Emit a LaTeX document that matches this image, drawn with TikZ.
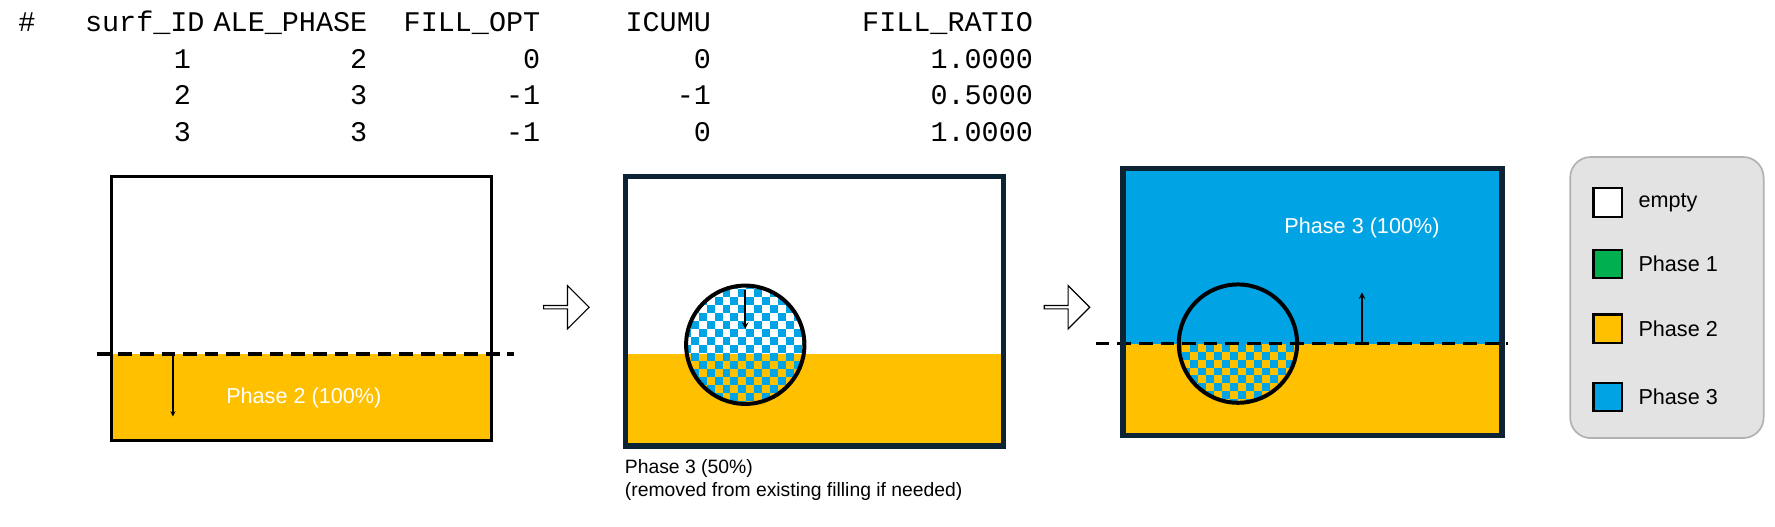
\documentclass[tikz,border=0pt]{standalone}
\usepackage{fontspec}
\setmainfont{Liberation Sans}
\setmonofont{Liberation Mono}
\usetikzlibrary{shapes.arrows}
\usetikzlibrary{positioning}
\definecolor{phyellow}{HTML}{FFC000}
\definecolor{phblue}{HTML}{00A3E4}
\definecolor{phgreen}{HTML}{00B050}
\definecolor{navy}{HTML}{0B2333}
\tikzset{
  tab/.style={anchor=base east,inner sep=0pt,font=\fontsize{25}{30}\selectfont\ttfamily},
  lbl/.style={text=white,font=\fontsize{19}{22}\selectfont},
  note/.style={anchor=west,inner sep=0pt,font=\fontsize{17}{20}\selectfont},
  level/.style={line width=3pt,dash pattern=on 12pt off 7pt},
  push/.style={single arrow,draw,fill=white,line width=1pt,minimum height=40pt,minimum width=38pt,single arrow head extend=6pt,inner sep=0pt},
  key/.style={draw,line width=2pt,minimum size=25pt,inner sep=0pt},
  keylbl/.style={anchor=west,font=\fontsize{19}{22}\selectfont}
}
\begin{document}
\begin{tikzpicture}[x=1pt,y=-1pt]
  \useasboundingbox (0,0) rectangle (1560,463);

  % table
  \node [tab,anchor=base west] (hash) at (16,28) {\#};
  \foreach \name/\x in {surf_ID/180,ALE_PHASE/323,FILL_OPT/475,ICUMU/625,FILL_RATIO/908}
    \node [tab] (h-\x) at (\x,28) {\detokenize\expandafter{\name}};
  \foreach \y/\a/\b/\c/\d/\e in {60/1/2/0/0/1.0000,92/2/3/-1/-1/0.5000,124/3/3/-1/0/1.0000} {
    \node [tab] at (168,\y) {\a};
    \node [tab] at (323,\y) {\b};
    \node [tab] at (475,\y) {\c};
    \node [tab] at (625,\y) {\d};
    \node [tab] at (908,\y) {\e};
  }

  % box 1
  \fill [phyellow] (98,311) rectangle (432,387);
  \draw [line width=3pt] (98,155) rectangle (432,387);
  \coordinate (lvlA-l) at (85,311);
  \coordinate (lvlA-r) at (452,311);
  \draw [level] (lvlA-l) -- (lvlA-r);
  \coordinate (dropA) at (152,313);
  \coordinate (dropA-end) at (152,366);
  \draw [->,>=stealth,line width=1pt] (dropA) -- (dropA-end);
  \node [lbl] (phA) at (267,350) {Phase 2 (100\%)};

  \node [push] (arrA) at (497,270) {};

  % box 2
  \fill [phyellow] (550,311) rectangle (882,392);
  \begin{scope}
    \clip (655,303) circle (52);
    \fill [white] (600,240) rectangle (710,311);
    \fill [phyellow] (600,311) rectangle (710,360);
    \foreach \i in {0,...,15}
      \foreach \j in {0,...,15} {
        \pgfmathparse{int(mod(\i+\j,2))}
        \ifnum\pgfmathresult=0
          \fill [phblue] (600+7*\i,247+7*\j) rectangle ++(7,7);
        \fi
      }
  \end{scope}
  \draw [line width=3.5pt] (655,303) circle (52);
  \draw [line width=4.5pt,navy] (550,155) rectangle (882,392);
  \coordinate (dropB) at (655,255);
  \coordinate (dropB-end) at (655,289);
  \draw [->,>=stealth,line width=1.5pt] (dropB) -- (dropB-end);
  \node [note] (phB) at (549,412) {Phase 3 (50\%)};
  \node [note,below=4pt of phB.south west,anchor=north west] (phB2) {(removed from existing filling if needed)};

  \node [push] (arrB) at (937,270) {};

  % box 3
  \fill [phblue] (987,148) rectangle (1320,302);
  \fill [phyellow] (987,302) rectangle (1320,383);
  \begin{scope}
    \clip (1088,302) circle (52);
    \clip (1030,302) rectangle (1150,360);
    \foreach \i in {0,...,15}
      \foreach \j in {0,...,8} {
        \pgfmathparse{int(mod(\i+\j,2))}
        \ifnum\pgfmathresult=0
          \fill [phblue] (1032+7*\i,302+7*\j) rectangle ++(7,7);
        \fi
      }
  \end{scope}
  \coordinate (lvlC-l) at (963,302);
  \coordinate (lvlC-r) at (1325,302);
  \draw [level] (lvlC-l) -- (lvlC-r);
  \draw [line width=3.5pt] (1088,302) circle (52);
  \draw [line width=4.5pt,navy] (987,148) rectangle (1320,383);
  \coordinate (riseC) at (1197,302);
  \coordinate (riseC-end) at (1197,257);
  \draw [->,>=stealth,line width=1.5pt] (riseC) -- (riseC-end);
  \node [lbl] (phC) at (1197,200) {Phase 3 (100\%)};

  % legend
  \node [draw=gray!60,line width=1.5pt,rounded corners=18pt,fill=gray!22,minimum width=170pt,minimum height=247pt] (legend) at (1465,261.5) {};
  \foreach \y/\col/\txt in {178/white/empty,232/phgreen/Phase 1,289/phyellow/Phase 2,349/phblue/Phase 3} {
    \node [key,fill=\col] (k-\y) at (1413,\y) {};
    \node [keylbl,right=10pt of k-\y] {\txt};
  }
\end{tikzpicture}
\end{document}
